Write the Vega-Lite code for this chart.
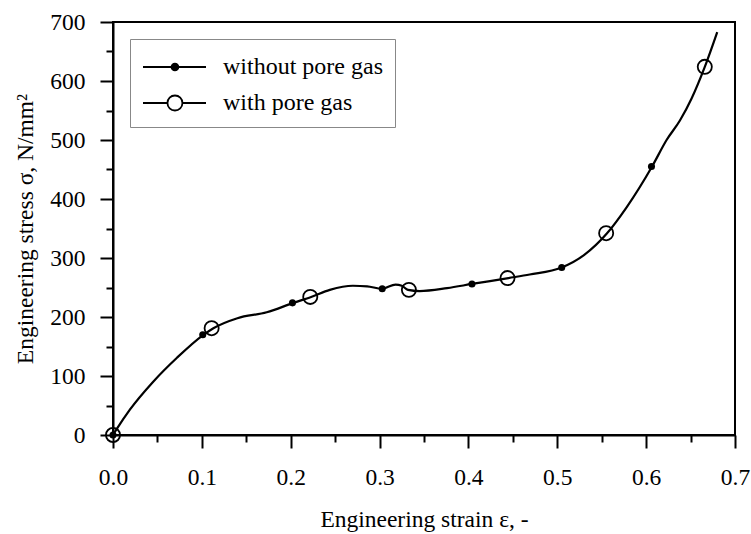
{
  "$schema": "https://vega.github.io/schema/vega-lite/v6.json",
  "width": 622,
  "height": 413,
  "autosize": "none",
  "padding": {"left": 113, "top": 22, "right": 16, "bottom": 99},
  "background": "white",
  "config": {
    "view": {"stroke": "black", "strokeWidth": 2},
    "font": "'Liberation Serif', 'Times New Roman', serif"
  },
  "datasets": {
    "curve": [
      {"x": 0, "y": 0},
      {"x": 0.005, "y": 12},
      {"x": 0.019, "y": 43},
      {"x": 0.045, "y": 90},
      {"x": 0.072, "y": 131},
      {"x": 0.101, "y": 169},
      {"x": 0.113, "y": 181},
      {"x": 0.14, "y": 198},
      {"x": 0.173, "y": 208},
      {"x": 0.203, "y": 224},
      {"x": 0.223, "y": 234},
      {"x": 0.244, "y": 246},
      {"x": 0.27, "y": 253},
      {"x": 0.286, "y": 252},
      {"x": 0.303, "y": 248},
      {"x": 0.318, "y": 255},
      {"x": 0.325, "y": 253},
      {"x": 0.332, "y": 246},
      {"x": 0.345, "y": 244},
      {"x": 0.376, "y": 249},
      {"x": 0.404, "y": 256},
      {"x": 0.445, "y": 266},
      {"x": 0.469, "y": 272},
      {"x": 0.505, "y": 284},
      {"x": 0.53, "y": 305},
      {"x": 0.556, "y": 342},
      {"x": 0.578, "y": 386},
      {"x": 0.607, "y": 456},
      {"x": 0.623, "y": 500},
      {"x": 0.638, "y": 533},
      {"x": 0.651, "y": 570},
      {"x": 0.666, "y": 624},
      {"x": 0.68, "y": 683}
    ],
    "markers": [
      {"series": "without pore gas", "x": 0, "y": 0},
      {"series": "without pore gas", "x": 0.101, "y": 170},
      {"series": "without pore gas", "x": 0.202, "y": 224},
      {"series": "without pore gas", "x": 0.303, "y": 248},
      {"series": "without pore gas", "x": 0.404, "y": 256},
      {"series": "without pore gas", "x": 0.505, "y": 284},
      {"series": "without pore gas", "x": 0.606, "y": 455},
      {"series": "with pore gas", "x": 0, "y": 0},
      {"series": "with pore gas", "x": 0.111, "y": 181},
      {"series": "with pore gas", "x": 0.222, "y": 234},
      {"series": "with pore gas", "x": 0.333, "y": 246},
      {"series": "with pore gas", "x": 0.444, "y": 266},
      {"series": "with pore gas", "x": 0.555, "y": 342},
      {"series": "with pore gas", "x": 0.666, "y": 624}
    ]
  },
  "resolve": {"axis": {"x": "independent", "y": "independent"}},
  "layer": [
    {
      "data": {"name": "curve"},
      "mark": {"type": "line", "color": "black", "strokeWidth": 2.2, "interpolate": "monotone"},
      "encoding": {
        "x": {
          "field": "x", "type": "quantitative",
          "scale": {"domain": [0, 0.7], "nice": false, "zero": true},
          "axis": {
            "orient": "bottom",
            "values": [0, 0.1, 0.2, 0.3, 0.4, 0.5, 0.6, 0.7],
            "format": ".1f",
            "grid": false,
            "tickSize": 13, "tickWidth": 2, "tickColor": "black",
            "domainColor": "black", "domainWidth": 2,
            "labelFontSize": 23.5, "labelColor": "black",
            "labelPadding": 17, "labelFlush": false, "labelOverlap": false,
            "title": "Engineering strain ε, -",
            "titleFontSize": 23.5, "titleFontWeight": "normal", "titleColor": "black",
            "titlePadding": 19
          }
        },
        "y": {
          "field": "y", "type": "quantitative",
          "scale": {"domain": [0, 700], "nice": false},
          "axis": {
            "orient": "left",
            "values": [0, 100, 200, 300, 400, 500, 600, 700],
            "grid": false,
            "tickSize": 13, "tickWidth": 2, "tickColor": "black",
            "domainColor": "black", "domainWidth": 2,
            "labelFontSize": 23.5, "labelColor": "black",
            "labelPadding": 15, "labelFlush": false, "labelOverlap": false,
            "title": "Engineering stress σ, N/mm²",
            "titleFontSize": 23.5, "titleFontWeight": "normal", "titleColor": "black",
            "titlePadding": 12
          }
        }
      }
    },
    {
      "data": {"name": "markers"},
      "transform": [{"filter": "datum.series === 'without pore gas'"}],
      "mark": {"type": "circle", "color": "black", "size": 50, "opacity": 1},
      "encoding": {
        "x": {
          "field": "x", "type": "quantitative",
          "axis": {
            "orient": "bottom",
            "values": [0.05, 0.15, 0.25, 0.35, 0.45, 0.55, 0.65],
            "grid": false, "labels": false, "domain": false, "title": null,
            "tickSize": 7, "tickWidth": 2, "tickColor": "black"
          }
        },
        "y": {
          "field": "y", "type": "quantitative",
          "axis": {
            "orient": "left",
            "values": [50, 150, 250, 350, 450, 550, 650],
            "grid": false, "labels": false, "domain": false, "title": null,
            "tickSize": 7, "tickWidth": 2, "tickColor": "black"
          }
        }
      }
    },
    {
      "data": {"name": "markers"},
      "transform": [{"filter": "datum.series === 'with pore gas'"}],
      "mark": {"type": "point", "shape": "circle", "filled": false, "stroke": "black", "strokeWidth": 1.8, "size": 200, "opacity": 1},
      "encoding": {
        "x": {"field": "x", "type": "quantitative", "axis": null},
        "y": {"field": "y", "type": "quantitative", "axis": null}
      }
    },
    {
      "data": {"name": "markers"},
      "mark": {"type": "point", "filled": false, "strokeWidth": 1.8, "opacity": 0},
      "encoding": {
        "x": {"field": "x", "type": "quantitative", "axis": null},
        "y": {"field": "y", "type": "quantitative", "axis": null},
        "shape": {
          "field": "series", "type": "nominal",
          "scale": {
            "domain": ["without pore gas", "with pore gas"],
            "range": [
              "M-1,0H3.2M1.36,0A0.23,0.23 0 1 1 0.9,0A0.23,0.23 0 1 1 1.36,0",
              "M-1,0H0.63M1.63,0H3.2M1.63,0A0.5,0.5 0 1 1 0.63,0A0.5,0.5 0 1 1 1.63,0"
            ]
          },
          "legend": {
            "title": null, "orient": "top-left", "offset": 17, "padding": 12,
            "strokeColor": "#888888", "fillColor": "white",
            "symbolSize": 900, "symbolStrokeColor": "black", "symbolStrokeWidth": 1.8, "symbolOpacity": 1,
            "labelFontSize": 24, "labelColor": "black",
            "labelOffset": 49, "rowPadding": 8, "labelLimit": 400
          }
        },
        "fill": {
          "field": "series", "type": "nominal",
          "scale": {"domain": ["without pore gas", "with pore gas"], "range": ["black", "white"]},
          "legend": {
            "title": null, "orient": "top-left", "offset": 17, "padding": 12,
            "strokeColor": "#888888", "fillColor": "white",
            "symbolSize": 900, "symbolStrokeColor": "black", "symbolStrokeWidth": 1.8, "symbolOpacity": 1,
            "labelFontSize": 24, "labelColor": "black",
            "labelOffset": 49, "rowPadding": 8, "labelLimit": 400
          }
        },
        "stroke": {
          "field": "series", "type": "nominal",
          "scale": {"domain": ["without pore gas", "with pore gas"], "range": ["black", "black"]},
          "legend": {
            "title": null, "orient": "top-left", "offset": 17, "padding": 12,
            "strokeColor": "#888888", "fillColor": "white",
            "symbolSize": 900, "symbolStrokeColor": "black", "symbolStrokeWidth": 1.8, "symbolOpacity": 1,
            "labelFontSize": 24, "labelColor": "black",
            "labelOffset": 49, "rowPadding": 8, "labelLimit": 400
          }
        }
      }
    }
  ]
}
